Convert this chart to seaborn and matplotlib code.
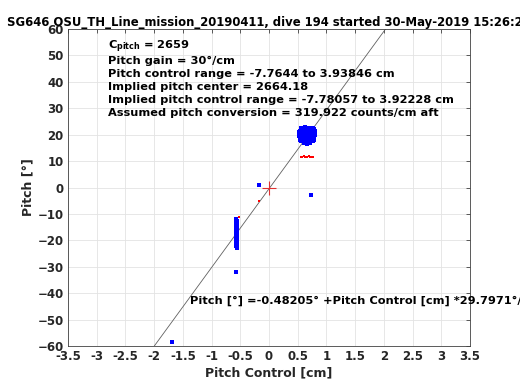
import numpy as np
import pandas as pd
import matplotlib
matplotlib.use("Agg")
import matplotlib.pyplot as plt
import seaborn as sns

# blue: measured pitch vs pitch control
blue_x = [0.55, 0.58, 0.61, 0.64, 0.67, 0.70, 0.73, 0.76, 0.78, 0.53,
          0.56, 0.59, 0.62, 0.65, 0.68, 0.71, 0.74, 0.77, 0.79, 0.54,
          0.57, 0.60, 0.63, 0.66, 0.69, 0.72, 0.75, 0.78, 0.56, 0.60,
          0.64, 0.68, 0.72, 0.76, 0.58, 0.62, 0.66, 0.70, 0.74, 0.61,
          0.65, 0.69, 0.73, 0.67, 0.71, 0.63, 0.75, 0.59, 0.57, 0.77,
          0.53, 0.80, 0.52, 0.79, 0.55, 0.78, 0.54, 0.80,
          -0.57, -0.56, -0.57, -0.56, -0.57, -0.56, -0.57, -0.56, -0.57, -0.56,
          -0.57, -0.56, -0.57, -0.56, -0.57, -0.56, -0.57, -0.56, -0.57, -0.56,
          -0.57, -0.56,
          -0.17, 0.74, -0.57, -1.69]
blue_y = [20.5, 21.0, 19.5, 22.0, 20.0, 21.5, 19.0, 20.5, 21.0, 19.5,
          18.5, 22.5, 18.0, 19.0, 22.5, 18.5, 21.5, 18.5, 19.5, 21.5,
          20.0, 20.5, 21.5, 20.5, 19.0, 20.0, 22.0, 20.0, 22.5, 18.0,
          17.5, 21.5, 22.5, 17.5, 19.0, 23.0, 18.0, 18.0, 20.5, 17.0,
          22.0, 20.5, 19.5, 16.5, 17.0, 20.0, 19.0, 21.5, 17.5, 22.5,
          21.0, 20.0, 20.5, 18.0, 17.5, 22.0, 18.0, 21.5,
          -12.0, -12.5, -13.0, -13.5, -14.0, -14.5, -15.0, -15.5, -16.0, -16.5,
          -17.0, -17.5, -18.0, -18.5, -19.0, -19.5, -20.0, -20.5, -21.0, -21.5,
          -22.0, -23.0,
          1.0, -3.0, -32.0, -58.5]

# red: commanded / other samples
red_x = [0.55, 0.58, 0.61, 0.63, 0.65, 0.67, 0.70, 0.72, 0.75, 0.77,
         -0.53, -0.17]
red_y = [11.7, 11.5, 11.8, 11.5, 11.7, 11.5, 11.8, 11.6, 11.5, 11.7,
         -11.0, -5.0]

center_x = [0.0]
center_y = [0.0]

intercept = -0.48205
slope = 29.7971

title = "SG646 OSU_TH_Line_mission_20190411, dive 194 started 30-May-2019 15:26:28"
info_lines = [
    r"C$_{\mathbf{pitch}}$ = 2659",
    "Pitch gain = 30°/cm",
    "Pitch control range = -7.7644 to 3.93846 cm",
    "Implied pitch center = 2664.18",
    "Implied pitch control range = -7.78057 to 3.92228 cm",
    "Assumed pitch conversion = 319.922 counts/cm aft",
]
fit_label = "Pitch [°] =-0.48205° +Pitch Control [cm] *29.7971°/cm"

sns.set_style("white")
plt.rcParams['font.family'] = ['DejaVu Sans']
plt.rcParams['font.weight'] = 'bold'
plt.rcParams['mathtext.default'] = 'bf'

fig = plt.figure(figsize=(5.2, 3.9), dpi=100)
ax = fig.add_axes([0.1308, 0.1128, 0.773, 0.8128])

fit_df = pd.DataFrame({"x": [-3.5, 3.5]})
fit_df["y"] = intercept + slope * fit_df["x"]
ax.plot(fit_df["x"], fit_df["y"], color="#606060", lw=0.6, zorder=2)

blue_df = pd.DataFrame({"x": blue_x, "y": blue_y})
red_df = pd.DataFrame({"x": red_x, "y": red_y})
sns.scatterplot(data=blue_df, x="x", y="y", color="#0000ff", s=5, marker="s",
                linewidth=0, ax=ax, zorder=3)
sns.scatterplot(data=red_df, x="x", y="y", color="#ff0000", s=4, marker="s",
                linewidth=0, ax=ax, zorder=4)
ax.plot(center_x, center_y, marker="+", color="#e03030", ms=10, mew=0.8,
        ls="none", zorder=5)

ax.set_xlim(-3.5, 3.5)
ax.set_ylim(-60, 60)
ax.set_xticks(np.arange(-3.5, 3.51, 0.5))
ax.set_xticklabels(["-3.5", "-3", "-2.5", "-2", "-1.5", "-1", "-0.5", "0",
                    "0.5", "1", "1.5", "2", "2.5", "3", "3.5"])
ax.set_yticks(np.arange(-60, 61, 10))
ax.grid(True, color="#e3e3e3", lw=0.6)
ax.tick_params(direction="in", top=True, right=True, length=3,
               labelsize=8.5, width=0.6, color="#404040", pad=3)
for lbl in ax.get_xticklabels() + ax.get_yticklabels():
    lbl.set_fontweight("bold")
    lbl.set_color("#262626")
for sp in ax.spines.values():
    sp.set_color("#404040")
    sp.set_linewidth(0.6)

ax.set_xlabel("Pitch Control [cm]", fontsize=9, fontweight="bold", color="#262626", labelpad=2)
ax.set_ylabel("Pitch [°]", fontsize=9, fontweight="bold", color="#262626", labelpad=2)
ax.set_title(title, fontsize=8.4, fontweight="bold", pad=2, color="black")

y0 = 0.945
for i, line in enumerate(info_lines):
    ax.text(0.1, y0 - 0.0415 * i - (0.004 if i > 0 else 0), line,
            transform=ax.transAxes, fontsize=8.2, fontweight="bold",
            va="center", ha="left", color="black")

ax.text(-1.37, -43.0, fit_label, fontsize=8.2, fontweight="bold",
        va="center", ha="left", color="black", clip_on=False)

fig.savefig("out.png", dpi=100)
